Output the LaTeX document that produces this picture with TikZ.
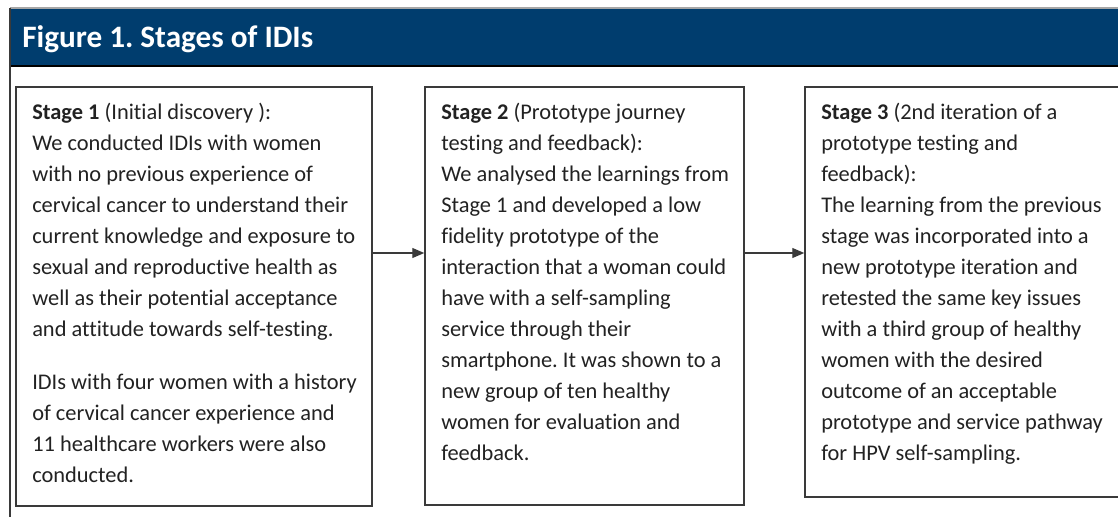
\documentclass[tikz,border=0pt]{standalone}
\usepackage{fontspec}
\setmainfont{Carlito}[Ligatures={NoCommon}]
\frenchspacing
\usetikzlibrary{arrows.meta}
\definecolor{titleblue}{HTML}{003D6E}
\definecolor{boxline}{HTML}{3A3A3A}
\definecolor{bodytext}{HTML}{222222}
\tikzset{
  stagebox/.style={draw=boxline, line width=1.1pt, rectangle, inner sep=0pt},
  stagetext/.style={anchor=north west, inner sep=0pt, align=left, text=bodytext,
    font={\fontsize{16.8}{23.25}\selectfont\frenchspacing}},
  flowarrow/.style={draw=boxline, line width=0.9pt, -{Triangle[length=9pt,width=7.5pt]}},
}
\begin{document}
\begin{tikzpicture}[x=0.75pt,y=-0.75pt]
\useasboundingbox (0,0) rectangle (1118,517);
\clip (0,0) rectangle (1118,517);
% frame and title bar
\fill[white] (0,0) rectangle (1118,517);
\fill[titleblue] (10,8) rectangle (1130,66);
\draw[gray!70, line width=1pt] (10,8) -- (1130,8);
\draw[black, line width=1.5pt] (10,66.5) -- (1130,66.5);
\draw[boxline, line width=1.1pt] (10,8) -- (10,530);
\node[anchor=base west, inner sep=0pt, text=white, font={\fontsize{23.4}{28}\selectfont\bfseries}] (title) at (22,47.5) {Figure 1. Stages of IDIs};
% boxes
\node[stagebox, minimum width=267pt, minimum height=314.25pt] (box1) at (194,296.5) {};
\node[stagebox, minimum width=239.25pt, minimum height=313.5pt] (box2) at (584.5,296) {};
\node[stagebox, minimum width=240pt, minimum height=307.5pt] (box3) at (965,292) {};
% texts
\node[stagetext] (t1) at (32,102.5) {\textbf{Stage 1} (Initial discovery ):\\
We conducted IDIs with women\\
with no previous experience of\\
cervical cancer to understand their\\
current knowledge and exposure to\\
sexual and reproductive health as\\
well as their potential acceptance\\
and attitude towards self-testing.\\[16.5pt]
IDIs with four women with a history\\
of cervical cancer experience and\\
11 healthcare workers were also\\
conducted.};
\node[stagetext] (t2) at (441,102.5) {\textbf{Stage 2} (Prototype journey\\
testing and feedback):\\
We analysed the learnings from\\
Stage 1 and developed a low\\
fidelity prototype of the\\
interaction that a woman could\\
have with a self-sampling\\
service through their\\
smartphone. It was shown to a\\
new group of ten healthy\\
women for evaluation and\\
feedback.};
\node[stagetext] (t3) at (821,102.5) {\textbf{Stage 3} (2nd iteration of a\\
prototype testing and\\
feedback):\\
The learning from the previous\\
stage was incorporated into a\\
new prototype iteration and\\
retested the same key issues\\
with a third group of healthy\\
women with the desired\\
outcome of an acceptable\\
prototype and service pathway\\
for HPV self-sampling.};
% arrows
\coordinate (arrowrow) at (0,253);
\draw[flowarrow] (box1.east |- arrowrow) -- (box2.west |- arrowrow);
\draw[flowarrow] (box2.east |- arrowrow) -- (box3.west |- arrowrow);
\end{tikzpicture}
\end{document}
